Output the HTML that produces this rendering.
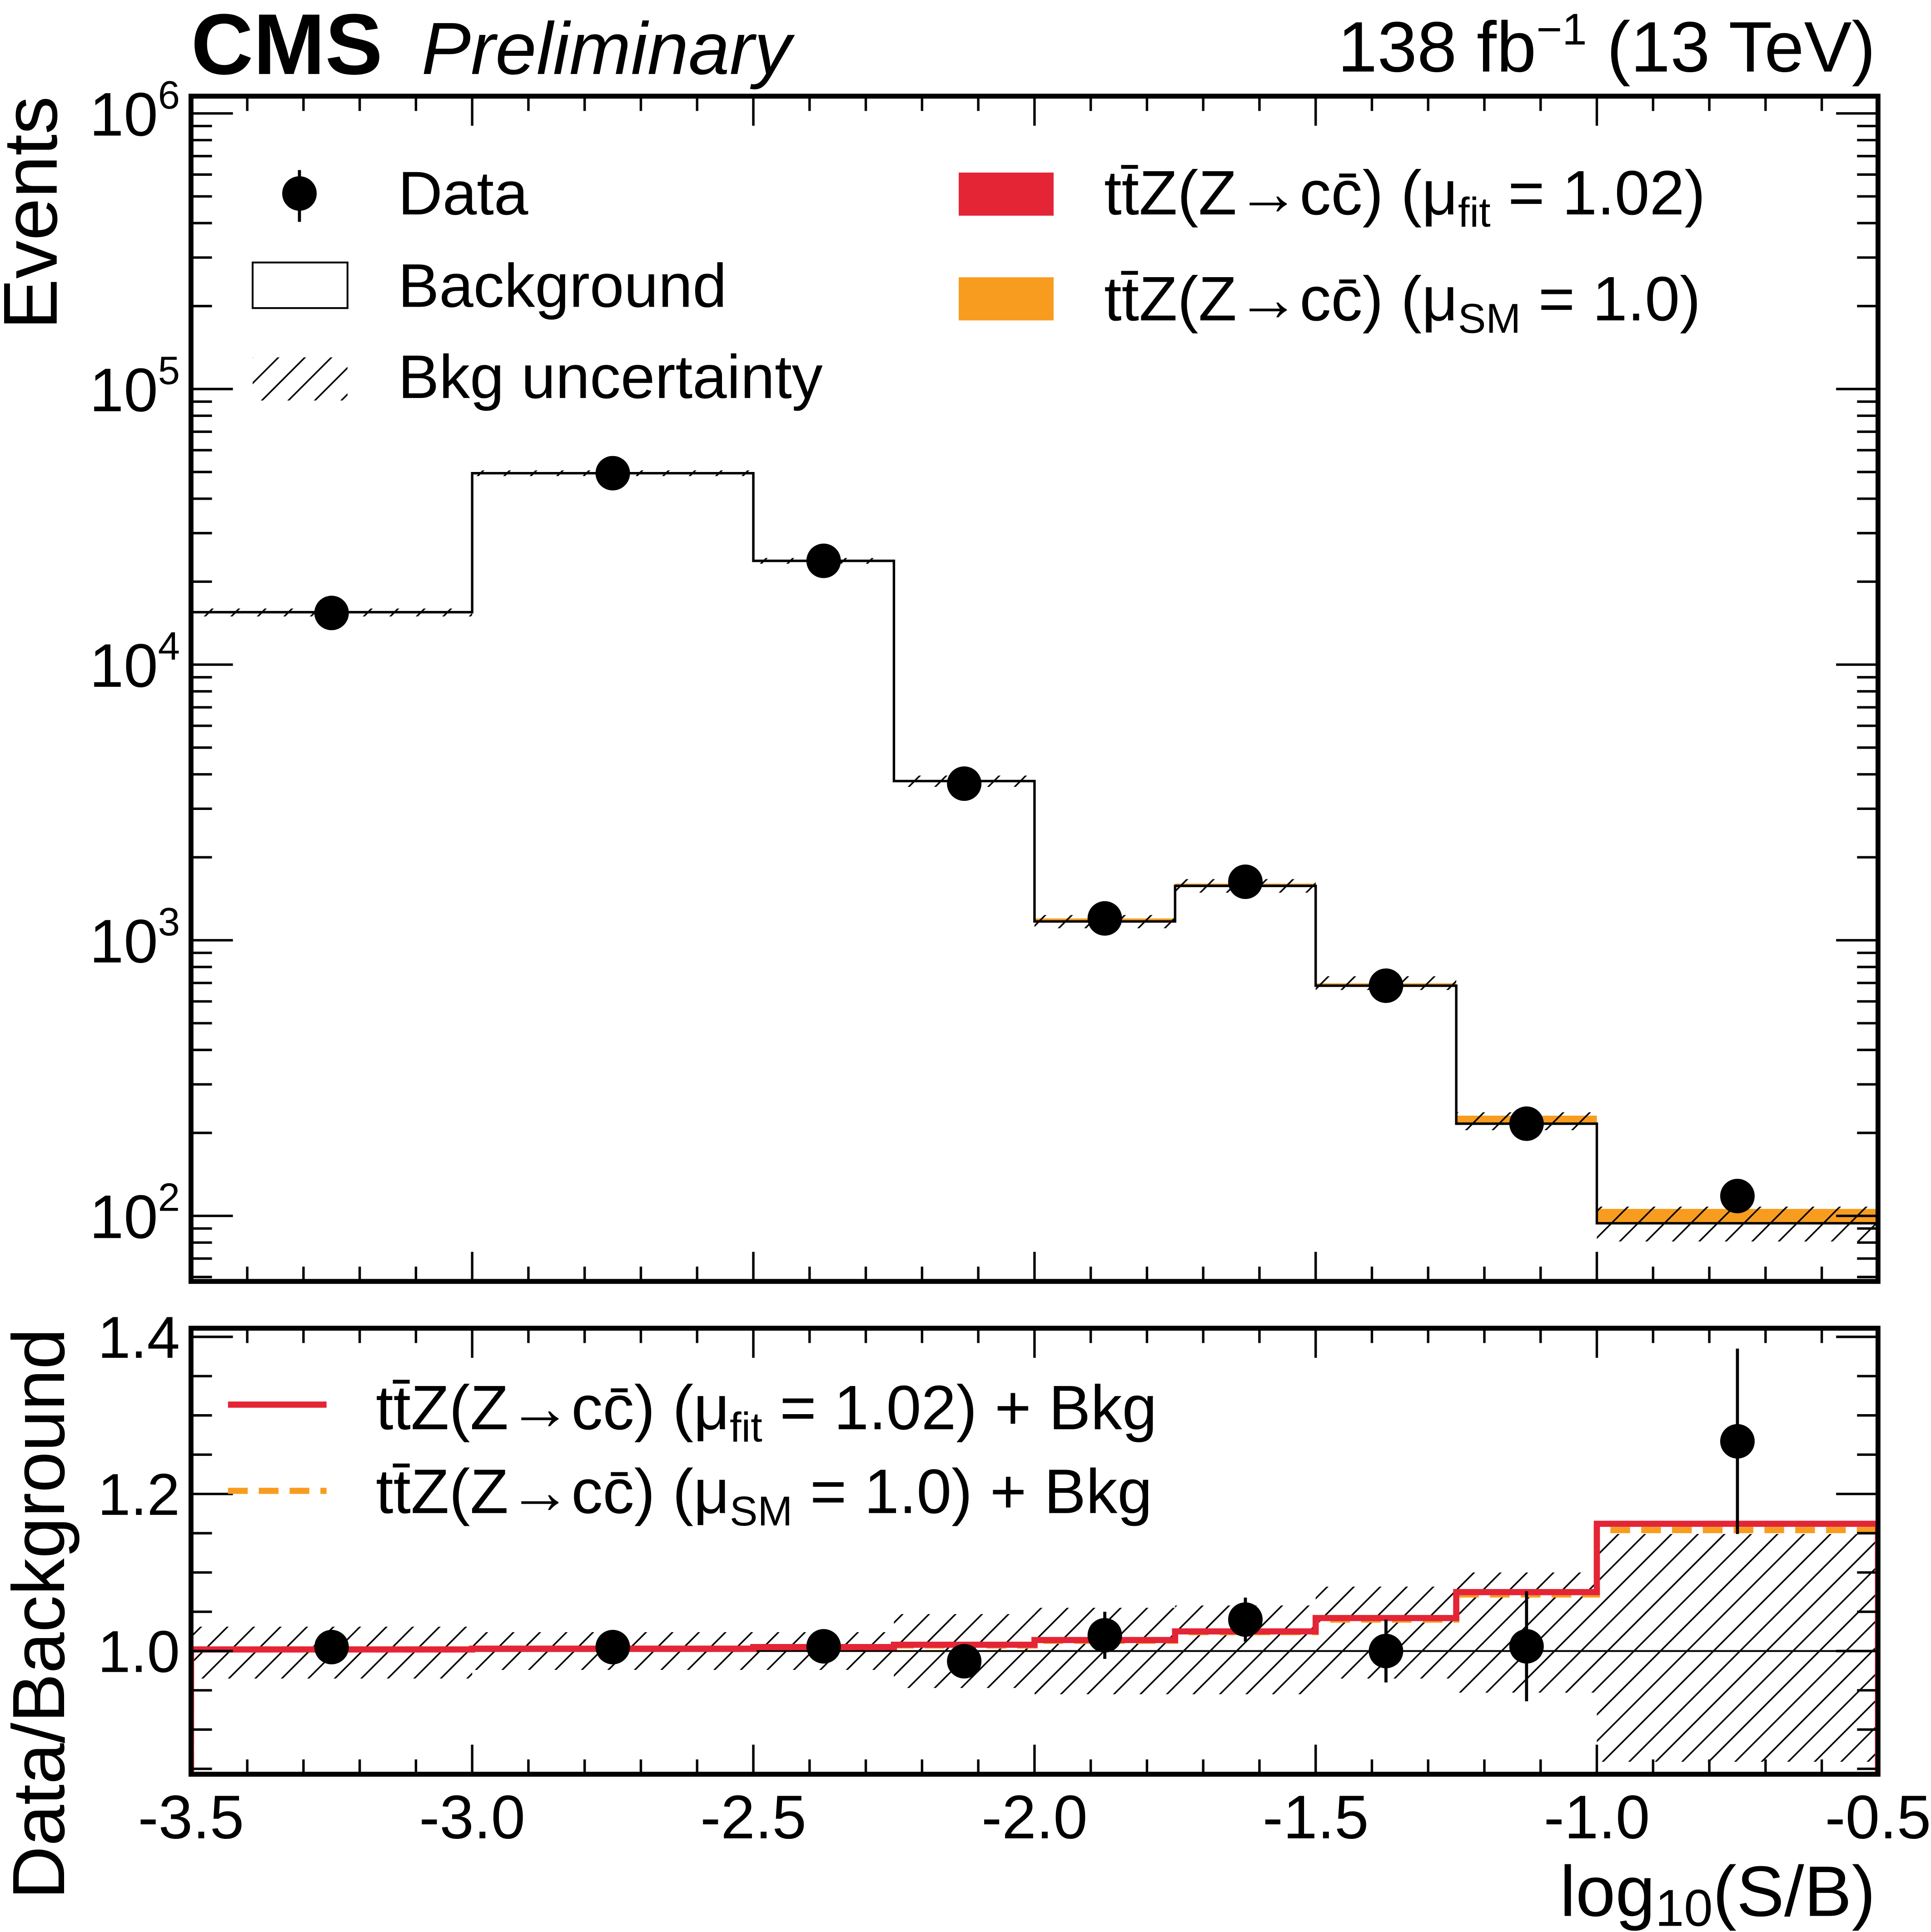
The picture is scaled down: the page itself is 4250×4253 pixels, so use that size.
<!DOCTYPE html>
<html><head><meta charset="utf-8"><style>
html,body{margin:0;padding:0;background:#fff}
svg{display:block}
text{font-family:"Liberation Sans",sans-serif;fill:#000}
</style></head><body>
<svg id="c" width="4250" height="4253" viewBox="0 0 1567 1568" xmlns="http://www.w3.org/2000/svg">
<defs>
<pattern id="hatch" patternUnits="userSpaceOnUse" width="21.5" height="21.5">
<line x1="-2" y1="23.5" x2="23.5" y2="-2" stroke="#000" stroke-width="1.3"/>
<line x1="-2" y1="2" x2="2" y2="-2" stroke="#000" stroke-width="1.3"/>
<line x1="19.5" y1="23.5" x2="23.5" y2="19.5" stroke="#000" stroke-width="1.3"/>
</pattern>
<clipPath id="ctop"><rect x="155" y="78" width="1369" height="962"/></clipPath>
<clipPath id="cbot"><rect x="155" y="1078" width="1369" height="362"/></clipPath>
</defs>
<g id="gtop" clip-path="url(#ctop)"></g>
<g id="gbot" clip-path="url(#cbot)"></g>
<g id="gaxes"></g>
<text x="155" y="60" font-size="70" font-weight="bold">CMS</text>
<text x="342" y="60" font-size="60" font-style="italic">Preliminary</text>
<text x="1522" y="58" font-size="58" text-anchor="end">138 fb<tspan dy="-22" font-size="36">−1</tspan><tspan dy="22"> (13 TeV)</tspan></text>
<text transform="translate(46,78) rotate(-90)" font-size="62" text-anchor="end">Events</text>
<text transform="translate(52,1078) rotate(-90)" font-size="60" text-anchor="end">Data/Background</text>
<text x="1522" y="1555" font-size="58" text-anchor="end">log<tspan font-size="42" dy="8">10</tspan><tspan dy="-8">(S/B)</tspan></text>
<g>
<line x1="243" y1="138" x2="243" y2="180" stroke="#000" stroke-width="2.5"/>
<circle cx="243" cy="157" r="14" fill="#000"/>
<text x="323" y="174" font-size="50">Data</text>
<rect x="205" y="213" width="77" height="37" fill="none" stroke="#000" stroke-width="1.5"/>
<text x="323" y="249" font-size="50">Background</text>
<rect x="205" y="290" width="77" height="35" fill="url(#hatch)"/>
<text x="323" y="323" font-size="50">Bkg uncertainty</text>
<rect x="778" y="140" width="77" height="35" fill="#e42536"/>
<text x="896" y="174" font-size="51">tt̄Z(Z→cc̄) (μ<tspan font-size="34" dy="10">fit</tspan><tspan dy="-10"> = 1.02)</tspan></text>
<rect x="778" y="225" width="77" height="35" fill="#f89c20"/>
<text x="896" y="260" font-size="51">tt̄Z(Z→cc̄) (μ<tspan font-size="34" dy="10">SM</tspan><tspan dy="-10"> = 1.0)</tspan></text>
</g>
<g>
<line x1="185" y1="1140" x2="265" y2="1140" stroke="#e42536" stroke-width="5"/>
<text x="305" y="1160" font-size="51">tt̄Z(Z→cc̄) (μ<tspan font-size="34" dy="10">fit</tspan><tspan dy="-10"> = 1.02) + Bkg</tspan></text>
<line x1="185" y1="1210" x2="265" y2="1210" stroke="#f89c20" stroke-width="5" stroke-dasharray="16,9"/>
<text x="305" y="1228" font-size="51">tt̄Z(Z→cc̄) (μ<tspan font-size="34" dy="10">SM</tspan><tspan dy="-10"> = 1.0) + Bkg</tspan></text>
</g>
</svg>
<script>
const binEdges=[-3.5,-3.0,-2.5,-2.25,-2.0,-1.75,-1.5,-1.25,-1.0,-0.5];
const bkgValues=[15500,49500,23800,3780,1170,1575,684,216,94];
const sigValues=[60,120,90,40,30,30,14,15,12];
const dataValues=[15400,49500,23800,3700,1200,1630,684,216,118];
const uncHi=[1.031,1.024,1.024,1.047,1.055,1.058,1.082,1.10,1.149];
const uncLo=[0.965,0.976,0.976,0.953,0.945,0.945,0.965,0.947,0.859];
const ratioData=[1.005,1.005,1.006,0.987,1.02,1.04,1.0,1.006,1.267];
const ratioErr=[0.008,0.005,0.007,0.016,0.03,0.028,0.04,0.07,0.118];
const ratioFit=[1.002,1.003,1.005,1.008,1.014,1.025,1.042,1.075,1.162];
const ratioSM=[1.002,1.003,1.005,1.007,1.013,1.024,1.04,1.072,1.154];
const xTicks=[-3.5,-3.0,-2.5,-2.0,-1.5,-1.0,-0.5];
const yTickExp=[2,3,4,5,6];
const ratioTicks=[1.0,1.2,1.4];

const PL=155,PR=1524,T1=78,B1=1040,T2=1078,B2=1440;
const X=v=>PL+(v+3.5)*(PR-PL)/3.0;
const Y=v=>92+(6-Math.log10(v))*223.7;
const YR=v=>1340-(v-1.0)*637.5;
const NS='http://www.w3.org/2000/svg';
function mk(tag,attrs,parent){const e=document.createElementNS(NS,tag);for(const k in attrs)e.setAttribute(k,attrs[k]);parent.appendChild(e);return e;}
const gTop=document.getElementById('gtop'),gBot=document.getElementById('gbot'),gAx=document.getElementById('gaxes');

for(let i=0;i<bkgValues.length;i++){
  const x0=X(binEdges[i]),x1=X(binEdges[i+1]),b=bkgValues[i],s=sigValues[i];
  let r=mk('rect',{x:x0,y:Y(b+s),width:x1-x0,height:Y(b)-Y(b+s),fill:'#f89c20'},gTop);
  
  
  r=mk('rect',{x:x0,y:Y(b*uncHi[i]),width:x1-x0,height:Y(b*uncLo[i])-Y(b*uncHi[i]),fill:'url(#hatch)'},gTop);
  
  
  r=mk('rect',{x:x0,y:YR(uncHi[i]),width:x1-x0,height:YR(uncLo[i])-YR(uncHi[i]),fill:'url(#hatch)'},gBot);
  
  
}
let d='M'+X(binEdges[0])+' '+B1;
for(let i=0;i<bkgValues.length;i++){d+=' L'+X(binEdges[i])+' '+Y(bkgValues[i])+' L'+X(binEdges[i+1])+' '+Y(bkgValues[i]);}
d+=' L'+X(binEdges[binEdges.length-1])+' '+B1;
let p=mk('path',{d:d,fill:'none',stroke:'#000','stroke-width':2},gTop);


let u=mk('line',{x1:PL,x2:PR,y1:YR(1),y2:YR(1),stroke:'#000','stroke-width':1.5},gBot);


function stepPath(vals){let s='M'+X(binEdges[0])+' '+B2;for(let i=0;i<vals.length;i++){s+=' L'+X(binEdges[i])+' '+YR(vals[i])+' L'+X(binEdges[i+1])+' '+YR(vals[i]);}return s+' L'+X(binEdges[binEdges.length-1])+' '+B2;}
p=mk('path',{d:stepPath(ratioSM),fill:'none',stroke:'#f89c20','stroke-width':5,'stroke-dasharray':'16,9'},gBot);


p=mk('path',{d:stepPath(ratioFit),fill:'none',stroke:'#e42536','stroke-width':5},gBot);


for(let i=0;i<dataValues.length;i++){
  const cx=(X(binEdges[i])+X(binEdges[i+1]))/2,v=dataValues[i],e=Math.sqrt(v);
  let l=mk('line',{x1:cx,x2:cx,y1:Y(v+e),y2:Y(v-e),stroke:'#000','stroke-width':2.5},gTop);
  
  
  let c=mk('circle',{cx:cx,cy:Y(v),r:14,fill:'#000'},gTop);
  
  
  l=mk('line',{x1:cx,x2:cx,y1:YR(ratioData[i]+ratioErr[i]),y2:YR(ratioData[i]-ratioErr[i]),stroke:'#000','stroke-width':2.5},gBot);
  
  
  c=mk('circle',{cx:cx,cy:YR(ratioData[i]),r:14,fill:'#000'},gBot);
  
  
}
for(const [t,b,n] of [[T1,B1,'main-frame'],[T2,B2,'ratio-frame']]){
  const f=mk('rect',{x:PL,y:t,width:PR-PL,height:b-t,fill:'none',stroke:'#000','stroke-width':4},gAx);
  
  
}
for(let k=0;k<=30;k++){
  const v=-3.5+k*0.1,x=X(v),major=(k%5===0),len=major?24:12;
  for(const [t,b] of [[T1,B1],[T2,B2]]){
    mk('line',{x1:x,x2:x,y1:b,y2:b-len,stroke:'#000','stroke-width':2},gAx);
    mk('line',{x1:x,x2:x,y1:t,y2:t+len,stroke:'#000','stroke-width':2},gAx);
  }
}
xTicks.forEach(v=>{const t=mk('text',{x:X(v),y:1492,'font-size':50,'text-anchor':'middle'},gAx);t.textContent=v.toFixed(1);
  
  });
for(let e=1;e<=6;e++){for(let m=1;m<=9;m++){const v=m*Math.pow(10,e),y=Y(v);if(y<T1||y>B1)continue;const len=m===1?34:17;
  mk('line',{x1:PL,x2:PL+len,y1:y,y2:y,stroke:'#000','stroke-width':2},gAx);
  mk('line',{x1:PR,x2:PR-len,y1:y,y2:y,stroke:'#000','stroke-width':2},gAx);}}
yTickExp.forEach(e=>{const t=mk('text',{x:146,y:Y(Math.pow(10,e))+18,'font-size':50,'text-anchor':'end'},gAx);
  t.innerHTML='10<tspan dy="-22" font-size="32">'+e+'</tspan>';
  
  });
for(let k=0;k<=12;k++){const v=0.85+k*0.05;const y=YR(v);if(y<T2||y>B2)continue;const r10=v*10;const major=Math.abs(r10-Math.round(r10))<1e-6&&Math.round(r10)%2===0;const len=major?34:17;
  mk('line',{x1:PL,x2:PL+len,y1:y,y2:y,stroke:'#000','stroke-width':2},gAx);
  mk('line',{x1:PR,x2:PR-len,y1:y,y2:y,stroke:'#000','stroke-width':2},gAx);}
ratioTicks.forEach(v=>{const t=mk('text',{x:146,y:YR(v)+17,'font-size':48,'text-anchor':'end'},gAx);t.textContent=v.toFixed(1);
  
  });
</script>
</body></html>
